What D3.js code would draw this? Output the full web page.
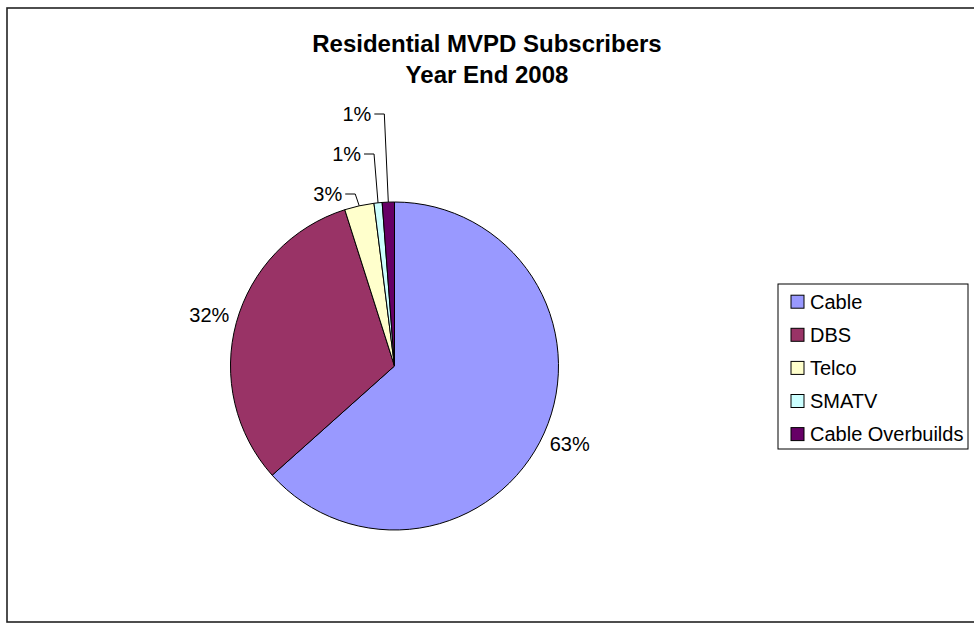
<!DOCTYPE html>
<html>
<head>
<meta charset="utf-8">
<script src="https://cdn.jsdelivr.net/npm/d3@7"></script>
<style>
body { margin: 0; background: #fff; }
text { font-family: "Liberation Sans", Arial, sans-serif; fill: #000; }
</style>
</head>
<body>
<div id="chart"></div>
<script>
var categories = ["Cable", "DBS", "Telco", "SMATV", "Cable Overbuilds"];
var shares = [63.4, 31.7, 2.9, 0.8, 1.2];
var pctLabels = ["63%", "32%", "3%", "1%", "1%"];
var colors = ["#9999FF", "#993366", "#FFFFCC", "#CCFFFF", "#660066"];
var titleLines = ["Residential MVPD Subscribers", "Year End 2008"];

var width = 974, height = 624;
var cx = 394.5, cy = 366, radius = 164;

var svg = d3.select("#chart").append("svg")
    .attr("width", width)
    .attr("height", height);

svg.append("rect")
    .attr("x", 7).attr("y", 8)
    .attr("width", 1000).attr("height", 614)
    .attr("fill", "#fff")
    .attr("stroke", "#222")
    .attr("stroke-width", 1.6);

// title
svg.selectAll(".title")
    .data(titleLines)
    .enter().append("text")
    .attr("class", "title")
    .attr("x", 487)
    .attr("y", function(d, i){ return 52 + i*31; })
    .attr("text-anchor", "middle")
    .style("font-size", "24px")
    .style("font-weight", "bold")
    .text(function(d){ return d; });

var pie = d3.pie().sort(null).value(function(d){ return d; });
var arcs = pie(shares);
var arc = d3.arc().innerRadius(0).outerRadius(radius);

var g = svg.append("g")
    .attr("transform", "translate(" + cx + "," + cy + ")");

g.selectAll(".slice")
    .data(arcs)
    .enter().append("path")
    .attr("class", "slice")
    .attr("d", arc)
    .attr("fill", function(d, i){ return colors[i]; })
    .attr("stroke", "#000")
    .attr("stroke-width", 1);

// labels: big slices straight outside, small ones stacked up with leaders
var labelArc = d3.arc().innerRadius(192).outerRadius(192);
var small = 0;
arcs.forEach(function(d, i){
    if(shares[i] >= 5){
        var c = labelArc.centroid(d);
        g.append("text")
            .attr("x", c[0])
            .attr("y", c[1])
            .attr("dy", "0.35em")
            .attr("text-anchor", "middle")
            .style("font-size", "20px")
            .text(pctLabels[i]);
    } else {
        var a = (d.startAngle + d.endAngle) / 2;
        var px = radius * Math.sin(a), py = -radius * Math.cos(a);
        var ey = -radius - 8 - small * 40;
        var ex = px - 4;
        g.append("polyline")
            .attr("points", [[px, py], [ex, ey], [ex - 10, ey]].join(" "))
            .attr("fill", "none")
            .attr("stroke", "#000")
            .attr("stroke-width", 1);
        g.append("text")
            .attr("x", ex - 13)
            .attr("y", ey + 7)
            .attr("text-anchor", "end")
            .style("font-size", "20px")
            .text(pctLabels[i]);
        small++;
    }
});

// legend
var legend = svg.append("g").attr("transform", "translate(778,284)");
legend.append("rect")
    .attr("width", 190).attr("height", 165)
    .attr("fill", "#fff")
    .attr("stroke", "#000")
    .attr("stroke-width", 1);
var item = legend.selectAll(".item")
    .data(categories)
    .enter().append("g")
    .attr("class", "item")
    .attr("transform", function(d, i){ return "translate(13," + (17.7 + i*33.1) + ")"; });
item.append("rect")
    .attr("x", 0).attr("y", -6.5)
    .attr("width", 13).attr("height", 13)
    .attr("fill", function(d, i){ return colors[i]; })
    .attr("stroke", "#000");
item.append("text")
    .attr("x", 19)
    .attr("dy", "0.35em")
    .style("font-size", "20px")
    .text(function(d){ return d; });
</script>
</body>
</html>
